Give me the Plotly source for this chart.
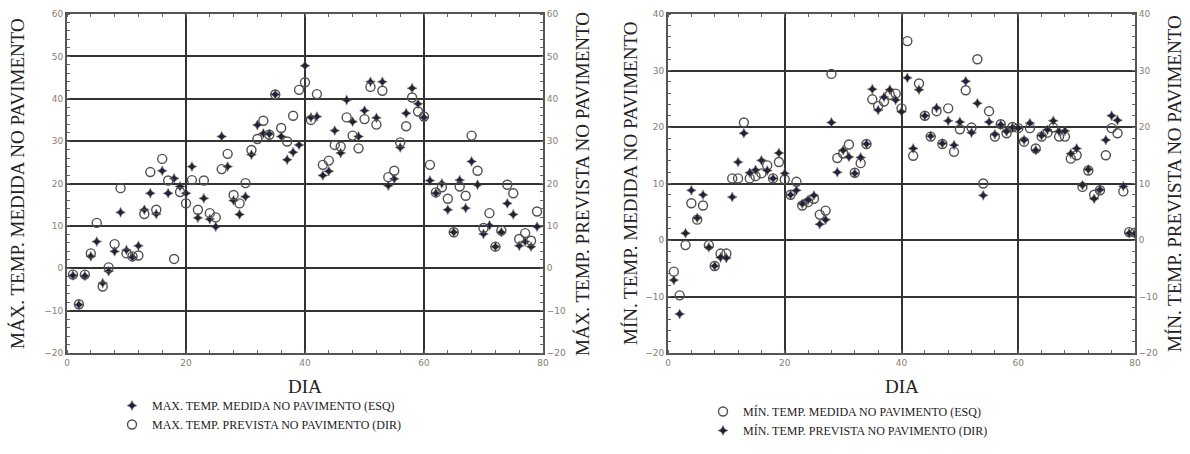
import plotly.graph_objects as go

# ---------------- data ----------------
dias_max = list(range(1, 80))
max_medida = [-1.7, -8.6, -1.8, 2.8, 6.3, -3.5, -0.7, 4.0, 13.2, 4.3,
              2.6, 5.3, 13.8, 17.7, 12.8, 23.0, 17.7, 21.2, 19.3, 17.7,
              24.0, 11.9, 16.5, 11.6, 9.8, 31.1, 24.0, 16.0, 12.7, 16.9,
              26.8, 33.8, 31.8, 31.7, 41.0, 31.1, 25.6, 27.4, 29.1, 47.8,
              35.6, 35.8, 21.9, 22.9, 32.5, 27.2, 39.7, 34.6, 31.1, 37.2,
              44.0, 35.5, 44.0, 19.5, 21.1, 28.5, 36.6, 42.5, 38.8, 35.6,
              20.7, 17.7, 20.0, 13.8, 8.5, 20.8, 14.2, 25.2, 19.7, 8.1,
              10.1, 5.1, 8.5, 15.3, 12.7, 5.3, 6.3, 5.1, 9.8]
max_prevista = [-1.5, -8.5, -1.5, 3.5, 10.7, -4.3, 0.2, 5.7, 18.9, 3.5,
                2.8, 3.0, 12.8, 22.7, 13.8, 25.8, 20.7, 2.2, 18.0, 15.3,
                20.8, 13.8, 20.7, 13.0, 12.0, 23.4, 27.0, 17.3, 15.3, 20.1,
                27.9, 30.5, 34.8, 31.5, 41.0, 33.1, 29.9, 36.0, 42.1, 43.9,
                35.0, 41.1, 24.4, 25.4, 29.1, 28.7, 35.6, 31.3, 28.3, 35.2,
                42.8, 33.9, 41.9, 21.5, 23.0, 29.7, 33.5, 40.3, 37.0, 35.8,
                24.4, 17.9, 19.1, 16.4, 8.5, 19.3, 17.1, 31.3, 23.0, 9.5,
                13.0, 5.1, 8.9, 19.7, 17.7, 6.9, 8.3, 6.5, 13.4]

dias_min = list(range(1, 81))
min_medida = [-5.6, -9.8, -0.9, 6.5, 3.6, 6.1, -0.9, -4.6, -2.4, -2.4,
              10.9, 10.9, 20.8, 10.9, 11.3, 11.8, 13.2, 10.9, 13.8, 10.7,
              8.0, 10.3, 6.1, 6.7, 7.3, 4.5, 5.2, 29.4, 14.5, 15.3,
              16.9, 11.9, 13.6, 17.0, 24.9, 23.7, 24.5, 25.7, 25.9, 23.3,
              35.2, 14.9, 27.7, 22.0, 18.3, 22.8, 17.0, 23.3, 15.6, 19.6,
              26.5, 19.9, 32.0, 10.0, 22.8, 18.3, 20.5, 18.9, 20.0, 19.8,
              17.4, 19.8, 16.2, 18.3, 19.0, 19.9, 18.3, 18.3, 14.4, 15.0,
              9.4, 12.3, 8.0, 8.8, 15.0, 19.8, 18.9, 8.6, 1.4, 1.3]
min_prevista = [-7.1, -13.1, 1.2, 8.8, 3.9, 8.0, -1.3, -4.6, -3.1, -3.2,
                7.6, 13.8, 18.9, 11.9, 12.4, 14.1, 12.3, 10.9, 15.4, 11.8,
                8.0, 8.8, 6.4, 7.1, 7.9, 2.8, 3.6, 20.8, 12.0, 15.9,
                14.7, 11.8, 14.6, 17.0, 26.7, 23.0, 25.3, 26.6, 24.8, 22.7,
                28.7, 16.2, 26.6, 22.0, 18.4, 23.4, 17.1, 21.1, 16.8, 20.9,
                28.1, 19.0, 24.2, 7.9, 20.9, 18.7, 20.4, 19.2, 19.9, 19.8,
                17.7, 20.7, 15.9, 18.5, 19.5, 21.1, 19.2, 19.3, 15.3, 16.2,
                9.7, 12.5, 7.3, 8.9, 17.7, 22.0, 21.2, 9.5, 1.2, 1.1]

x_ticks = [0, 20, 40, 60, 80]
y_ticks_max = [-20, -10, 0, 10, 20, 30, 40, 50, 60]
y_ticks_min = [-20, -10, 0, 10, 20, 30, 40]

# ---------------- styles ----------------
W, H = 1190, 454
SERIF = "Liberation Serif, Times New Roman, serif"
STAR = dict(symbol="star-diamond", size=7, color="#1a2544",
            line=dict(width=0.5, color="#7a5530"))
CIRC = dict(symbol="circle-open", size=9, color="#505050", line=dict(width=1.4))
TICKFONT = dict(family="DejaVu Sans, sans-serif", size=9, color="#8a7c72")
GRID = "#333333"

def px_x(p):
    return p / W

def px_y(p):
    return 1 - p / H

fig = go.Figure()

# Left panel
fig.add_trace(go.Scatter(x=dias_max, y=max_medida, mode="markers", marker=STAR,
                         name="MAX. TEMP. MEDIDA NO PAVIMENTO (ESQ)",
                         xaxis="x", yaxis="y", legend="legend"))
fig.add_trace(go.Scatter(x=dias_max, y=max_prevista, mode="markers", marker=CIRC,
                         name="MAX. TEMP. PREVISTA NO PAVIMENTO (DIR)",
                         xaxis="x", yaxis="y2", legend="legend"))
# Right panel
fig.add_trace(go.Scatter(x=dias_min, y=min_medida, mode="markers", marker=CIRC,
                         name="MÍN. TEMP. MEDIDA NO PAVIMENTO (ESQ)",
                         xaxis="x2", yaxis="y3", legend="legend2"))
fig.add_trace(go.Scatter(x=dias_min, y=min_prevista, mode="markers", marker=STAR,
                         name="MÍN. TEMP. PREVISTA NO PAVIMENTO (DIR)",
                         xaxis="x2", yaxis="y4", legend="legend2"))

ydom = [px_y(353), px_y(14)]

def xaxis_cfg(dom):
    return dict(domain=dom, range=[0, 80], tickvals=x_ticks, showgrid=True,
                gridcolor=GRID, gridwidth=2, showline=True, linecolor="#555555",
                linewidth=2, mirror="allticks", ticks="", tickfont=TICKFONT,
                zeroline=False, fixedrange=True, automargin=False,
                minor=dict(dtick=4, ticks="inside", ticklen=3, tickcolor="#666666",
                           showgrid=False))

def yaxis_cfg(rng, vals, anchor, side="left", overlay=None):
    d = dict(range=rng, tickvals=vals, anchor=anchor, side=side,
             showline=True, linecolor="#555555", linewidth=2, ticks="",
             tickfont=TICKFONT, zeroline=False, fixedrange=True, automargin=False,
             minor=dict(dtick=2, ticks="inside", ticklen=3, tickcolor="#666666",
                        showgrid=False))
    if overlay:
        d.update(overlaying=overlay, showgrid=False)
    else:
        d.update(domain=ydom, showgrid=True, gridcolor=GRID, gridwidth=2)
    return d

LEGFONT = dict(family=SERIF, size=12, color="#222222")
fig.update_layout(
    width=W, height=H, margin=dict(l=0, r=0, t=0, b=0),
    paper_bgcolor="white", plot_bgcolor="white",
    xaxis=xaxis_cfg([px_x(67), px_x(543)]),
    xaxis2=xaxis_cfg([px_x(668), px_x(1135)]),
    yaxis=yaxis_cfg([-20, 60], y_ticks_max, "x"),
    yaxis2=yaxis_cfg([-20, 60], y_ticks_max, "x", side="right", overlay="y"),
    yaxis3=yaxis_cfg([-20, 40], y_ticks_min, "x2"),
    yaxis4=yaxis_cfg([-20, 40], y_ticks_min, "x2", side="right", overlay="y3"),
    legend=dict(x=px_x(112), y=px_y(391), xanchor="left", yanchor="top",
                font=LEGFONT, bgcolor="rgba(0,0,0,0)", tracegroupgap=0, itemwidth=30),
    legend2=dict(x=px_x(703), y=px_y(397), xanchor="left", yanchor="top",
                 font=LEGFONT, bgcolor="rgba(0,0,0,0)", tracegroupgap=0, itemwidth=30),
    showlegend=True,
)

title_font = dict(family=SERIF, size=19, color="#222222")
annos = [
    dict(text="MÁX. TEMP. MEDIDA NO PAVIMENTO", x=px_x(17), y=px_y(184)),
    dict(text="MÁX. TEMP. PREVISTA NO PAVIMENTO", x=px_x(582), y=px_y(184)),
    dict(text="MÍN. TEMP. MEDIDA NO PAVIMENTO", x=px_x(630), y=px_y(184)),
    dict(text="MÍN. TEMP. PREVISTA NO PAVIMENTO", x=px_x(1174), y=px_y(184)),
]
for a in annos:
    fig.add_annotation(xref="paper", yref="paper", showarrow=False, textangle=-90,
                       font=title_font, xanchor="center", yanchor="middle", **a)
for cx in (305, 902):
    fig.add_annotation(text="DIA", xref="paper", yref="paper", x=px_x(cx), y=px_y(386),
                       showarrow=False, font=dict(family=SERIF, size=19, color="#222222"),
                       xanchor="center", yanchor="middle")

fig.write_html("out.html")
